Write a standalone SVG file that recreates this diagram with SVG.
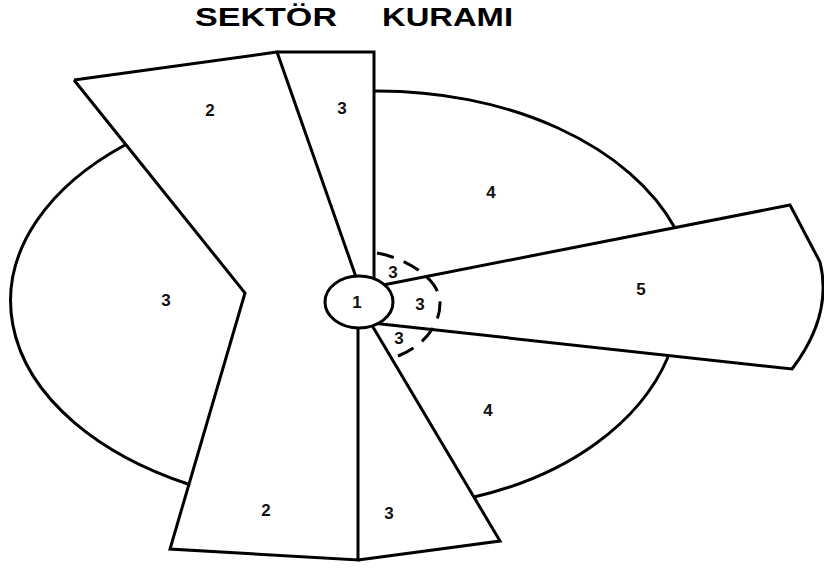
<svg xmlns="http://www.w3.org/2000/svg" width="824" height="568" viewBox="0 0 824 568">
<style>
.s{fill:none;stroke:#000;stroke-width:3;stroke-linejoin:miter;stroke-linecap:butt}
.d{fill:none;stroke:#000;stroke-width:3;stroke-dasharray:11 6.8}
.t{font-family:"Liberation Sans",Arial,sans-serif;font-weight:bold;font-size:17px;fill:#111;text-anchor:middle}
.h{font-family:"Liberation Sans",Arial,sans-serif;font-weight:bold;font-size:25px;fill:#000}
</style>
<rect width="824" height="568" fill="#fff"/>
<g id="title">
<text class="h" x="195" y="26" textLength="142" lengthAdjust="spacingAndGlyphs">SEKTÖR</text>
<text class="h" x="382" y="26" textLength="131" lengthAdjust="spacingAndGlyphs">KURAMI</text>
</g>
<g id="sector-2">
<path class="s" d="M74,80 L277,52 L356,277 M358,320 L358,560 L170,549 L245,293 L74,80"/>
<text class="t" x="210" y="116">2</text>
<text class="t" x="266" y="516">2</text>
</g>
<g id="sector-3-left">
<path class="s" d="M125,145 A338,208 0 0 0 188,484"/>
<text class="t" x="166" y="306">3</text>
</g>
<g id="sector-3-top">
<path class="s" d="M277,52 L374,52 L374,282"/>
<text class="t" x="342" y="114">3</text>
</g>
<g id="sector-4-top">
<path class="s" d="M374,91 A316,207 0 0 1 675,228"/>
<text class="t" x="491" y="198">4</text>
</g>
<g id="sector-5">
<path class="s" d="M378,286 L790,205 L820,262 Q833,315 792,369 L372,323"/>
<text class="t" x="641" y="295">5</text>
</g>
<g id="sector-4-bottom">
<path class="s" d="M668,357 A300,210 0 0 1 474,497"/>
<text class="t" x="488" y="416">4</text>
</g>
<g id="sector-3-bottom">
<path class="s" d="M370,322 L500,541 L358,560"/>
<text class="t" x="389" y="519">3</text>
</g>
<g id="inner-3">
<path class="d" pathLength="100" d="M377,253 C405,258 440,278 440,303 C440,325 425,345 398,356"/>
<text class="t" x="393" y="278">3</text>
<text class="t" x="420" y="310">3</text>
<text class="t" x="399" y="344">3</text>
</g>
<g id="center-1">
<ellipse cx="359" cy="302" rx="34" ry="26" fill="#fff" stroke="#000" stroke-width="3"/>
<text class="t" x="357" y="308">1</text>
</g>
</svg>
